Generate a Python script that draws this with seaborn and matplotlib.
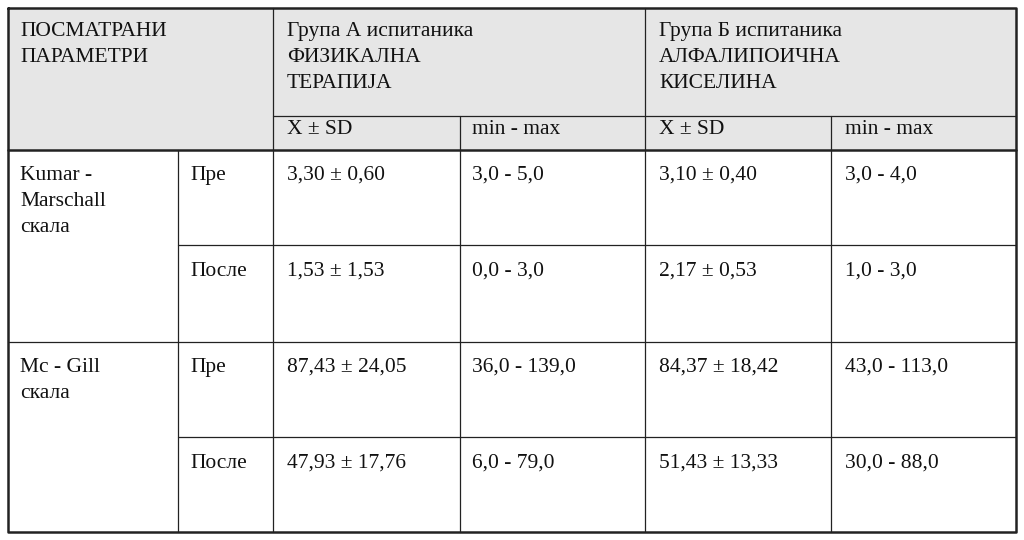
import matplotlib
matplotlib.use("Agg")
import matplotlib.pyplot as plt
import seaborn as sns

sns.set_theme(style="white")
plt.rcParams["font.family"] = ["Liberation Serif", "DejaVu Serif"]

header_left = "ПОСМАТРАНИ\nПАРАМЕТРИ"
group_a = "Група А испитаника\nФИЗИКАЛНА\nТЕРАПИЈА"
group_b = "Група Б испитаника\nАЛФАЛИПОИЧНА\nКИСЕЛИНА"
sub_headers = ["X ± SD", "min - max", "X ± SD", "min - max"]
scales = ["Kumar -\nMarschall\nскала", "Mc - Gill\nскала"]
phases = ["Пре", "После", "Пре", "После"]
a_mean_sd = ["3,30 ± 0,60", "1,53 ± 1,53", "87,43 ± 24,05", "47,93 ± 17,76"]
a_range = ["3,0 - 5,0", "0,0 - 3,0", "36,0 - 139,0", "6,0 - 79,0"]
b_mean_sd = ["3,10 ± 0,40", "2,17 ± 0,53", "84,37 ± 18,42", "51,43 ± 13,33"]
b_range = ["3,0 - 4,0", "1,0 - 3,0", "43,0 - 113,0", "30,0 - 88,0"]

fig = plt.figure(figsize=(10.24, 5.4), dpi=100)
ax = fig.add_axes([0, 0, 1, 1])
ax.set_xlim(0, 1024)
ax.set_ylim(540, 0)
ax.axis("off")

L, R, T, B = 8, 1016, 8, 532
ax.fill_between([L, R], T, 150, color="#e6e6e6", lw=0)
lc = "#222222"
ax.plot([L, R, R, L, L], [T, T, B, B, T], color=lc, lw=1.8)
ax.plot([L, R], [150, 150], color=lc, lw=1.8)
ax.plot([273, R], [116, 116], color=lc, lw=0.9)
for y in [245, 437]:
    ax.plot([178, R], [y, y], color=lc, lw=0.9)
ax.plot([L, R], [342, 342], color=lc, lw=0.9)
for x in [273, 645]:
    ax.plot([x, x], [T, B], color=lc, lw=0.9)
ax.plot([178, 178], [150, B], color=lc, lw=0.9)
for x in [460, 831]:
    ax.plot([x, x], [116, B], color=lc, lw=0.9)

fs = 15.5
kw = dict(fontsize=fs, va="top", ha="left", color="#111111", linespacing=1.5)
ax.text(20, 22, header_left, **kw)
ax.text(287, 22, group_a, **kw)
ax.text(659, 22, group_b, **kw)
for x, s in zip([287, 472, 659, 845], sub_headers):
    ax.text(x, 120, s, **kw)
for i, s in enumerate(scales):
    ax.text(20, 166 + i * 192, s, **kw)
cols = [(190, phases), (287, a_mean_sd), (472, a_range), (659, b_mean_sd), (845, b_range)]
for x, vals in cols:
    for i, s in enumerate(vals):
        ax.text(x, 166 + i * 96, s, **kw)

fig.savefig("out.png", dpi=100, facecolor="white")
